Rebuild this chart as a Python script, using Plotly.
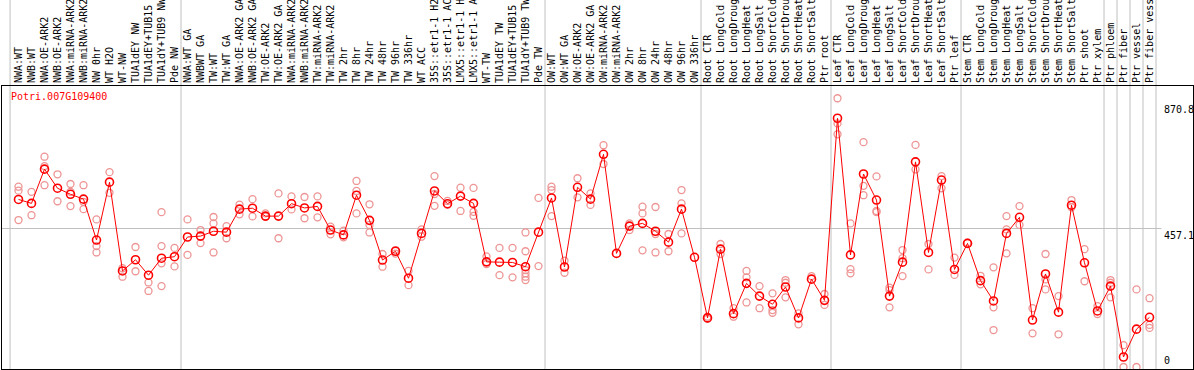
import plotly.graph_objects as go

gene = "Potri.007G109400"

labels = [
    "NWA:WT", "NWB:WT", "NWA:OE-ARK2", "NWB:OE-ARK2", "NWA:miRNA-ARK2", "NWB:miRNA-ARK2",
    "NW 0hr", "WT H2O", "WT-NW", "TUA1dEY NW", "TUA1dEY+TUB15 NW", "TUA1dY+TUB9 NW", "Pde NW",
    "NWA:WT GA", "NWBWT GA", "TW:WT", "TW:WT GA", "NWA:OE-ARK2 GA", "NWB:OE-ARK2 GA",
    "TW:OE-ARK2", "TW:OE-ARK2 GA", "NWA:miRNA-ARK2 GA", "NWB:miRNA-ARK2 GA", "TW:miRNA-ARK2",
    "TW:miRNA-ARK2", "TW 2hr", "TW 8hr", "TW 24hr", "TW 48hr", "TW 96hr", "TW 336hr", "WT ACC",
    "35S::etr1-1 H2O", "35S::etr1-1 ACC", "LMX5::etr1-1 H2O", "LMX5::etr1-1 ACC", "WT-TW",
    "TUA1dEY TW", "TUA1dEY+TUB15 TW", "TUA1dY+TUB9 TW", "Pde TW",
    "OW:WT", "OW:WT GA", "OW:OE-ARK2", "OW:OE-ARK2 GA", "OW:miRNA-ARK2", "OW:miRNA-ARK2",
    "OW 2hr", "OW 8hr", "OW 24hr", "OW 48hr", "OW 96hr", "OW 336hr",
    "Root CTR", "Root LongCold", "Root LongDrought", "Root LongHeat", "Root LongSalt",
    "Root ShortCold", "Root ShortDrought", "Root ShortHeat", "Root ShortSalt", "Ptr root",
    "Leaf CTR", "Leaf LongCold", "Leaf LongDrought", "Leaf LongHeat", "Leaf LongSalt",
    "Leaf ShortCold", "Leaf ShortDrought", "Leaf ShortHeat", "Leaf ShortSalt", "Ptr leaf",
    "Stem CTR", "Stem LongCold", "Stem LongDrought", "Stem LongHeat", "Stem LongSalt",
    "Stem ShortCold", "Stem ShortDrought", "Stem ShortHeat", "Stem ShortSalt", "Ptr shoot",
    "Ptr xylem", "Ptr phloem", "Ptr fiber", "Ptr vessel", "Ptr fiber vessel",
]

group_sizes = [13, 28, 12, 10, 10, 11, 1, 1, 1, 1]

means = [
    553, 540, 653, 590, 570, 554, 419, 610, 317, 354, 303, 359, 364,
    429, 432, 448, 445, 521, 524, 498, 498, 539, 525, 530, 452, 436, 567, 484,
    353, 382, 293, 441, 581, 539, 564, 540, 347, 346, 345, 331, 445,
    558, 330, 593, 554, 702, 375, 465, 474, 448, 412, 521, 362,
    162, 389, 176, 276, 234, 207, 264, 162, 290, 220,
    821, 370, 637, 551, 234, 346, 677, 378, 617, 322,
    408, 285, 218, 441, 494, 155, 307, 181, 534, 344, 185,
    267, 33, 125, 164,
]

replicates = [
    [595, 582, 485], [578, 501], [694, 663, 600], [636, 547], [604, 578, 531],
    [600, 545, 521], [487, 399, 378], [643, 575], [326, 298], [396, 316],
    [279, 251], [511, 399, 342, 267], [393, 332],
    [487, 370], [452, 409], [495, 474, 378], [465, 425], [536, 504], [554, 497],
    [507, 496], [573, 425], [563, 520], [561, 491], [563, 494], [463, 438],
    [450, 428], [614, 581, 507], [537, 469, 444], [373, 331], [386, 374],
    [317, 270], [454, 430], [630, 571, 532], [548, 535], [592, 515],
    [591, 512, 499], [365, 340], [393, 303], [393, 296],
    [444, 382, 320, 309, 298, 287], [558, 333],
    [595, 584, 498], [351, 311], [623, 560], [573, 535], [732, 670], [],
    [474, 452], [529, 507, 385], [528, 439, 378], [439, 382], [584, 540, 441], [],
    [166, 159], [406, 373], [194, 166], [317, 296, 213], [267, 194],
    [243, 188, 179], [287, 278, 230], [177, 141], [300], [241, 205],
    [887, 804, 768], [474, 323, 309], [742, 598, 567], [629, 515, 511],
    [262, 254, 197], [386, 359, 300], [733, 652], [406, 322], [630, 590], [361, 304],
    [410], [301, 273], [329, 197, 122], [498, 454, 375], [531, 469], [194, 111],
    [373, 289, 256], [234, 108], [551, 527], [389, 283], [201, 175],
    [287, 278, 230], [72, 0], [256, 0], [227, 139, 129],
]

y_ticks = [0, 457.1, 870.8]

mono = "DejaVu Sans Mono"
grid_col = "#c0c0c0"

idx = list(range(len(labels)))
rep_x, rep_y = [], []
for i, reps in enumerate(replicates):
    for v in reps:
        rep_x.append(i)
        rep_y.append(v)

fig = go.Figure()
fig.add_trace(go.Scatter(
    x=rep_x, y=rep_y, mode="markers",
    marker=dict(symbol="circle-open", size=7, color="#ee9494", line=dict(width=1.3, color="#ee9494")),
    hoverinfo="skip", showlegend=False, cliponaxis=True,
))
fig.add_trace(go.Scatter(
    x=idx, y=means, mode="lines+markers",
    line=dict(color="#ff0000", width=1),
    marker=dict(symbol="circle-open", size=8, color="#ff0000", line=dict(width=1.6, color="#ff0000")),
    showlegend=False,
))

shapes = []
# group separators (extend through header)
bounds = [-0.65]
c = 0
for g in group_sizes:
    c += g
    bounds.append(c - 0.5)
for b in bounds:
    shapes.append(dict(type="line", xref="x", yref="paper", x0=b, x1=b, y0=0, y1=1.31,
                       line=dict(color=grid_col, width=1), layer="below"))
# mean gridline
shapes.append(dict(type="line", xref="paper", yref="y", x0=0, x1=0.9735, y0=y_ticks[1], y1=y_ticks[1],
                   line=dict(color=grid_col, width=1), layer="below"))

annotations = [
    dict(text=gene, xref="paper", yref="paper", x=0.006, y=0.962, xanchor="left", yanchor="middle",
         showarrow=False, font=dict(family=mono, size=10, color="#ff0000")),
]
for v in y_ticks:
    annotations.append(dict(
        text=f"{v:g}", xref="x", yref="y", x=88.0, y=v, xanchor="left",
        yanchor="bottom" if v == 0 else "top", showarrow=False,
        font=dict(family=mono, size=10, color="#000000"), borderpad=0,
    ))

x0 = -16.5 / 13
x1 = x0 + 1191 / 13
fig.update_layout(
    width=1194, height=370,
    margin=dict(l=2, r=1, t=86, b=1, autoexpand=False),
    paper_bgcolor="white", plot_bgcolor="white",
    shapes=shapes, annotations=annotations,
    xaxis=dict(
        range=[x0, x1], side="top", tickmode="array", tickvals=idx, ticktext=labels,
        tickangle=-90, tickfont=dict(family=mono, size=10, color="#000000"),
        showgrid=False, zeroline=False, ticks="", showline=True, mirror=True,
        linecolor="#000000", linewidth=1, automargin=False, fixedrange=True,
    ),
    yaxis=dict(
        range=[-6.6, 927.4], showticklabels=False, showgrid=False, zeroline=False, ticks="",
        showline=True, mirror=True, linecolor="#000000", linewidth=1, automargin=False,
        fixedrange=True,
    ),
)

fig.write_html(
    "out.html",
    config={"displayModeBar": False},
    post_script="document.body.style.margin='0';document.body.style.overflow='hidden';",
)
